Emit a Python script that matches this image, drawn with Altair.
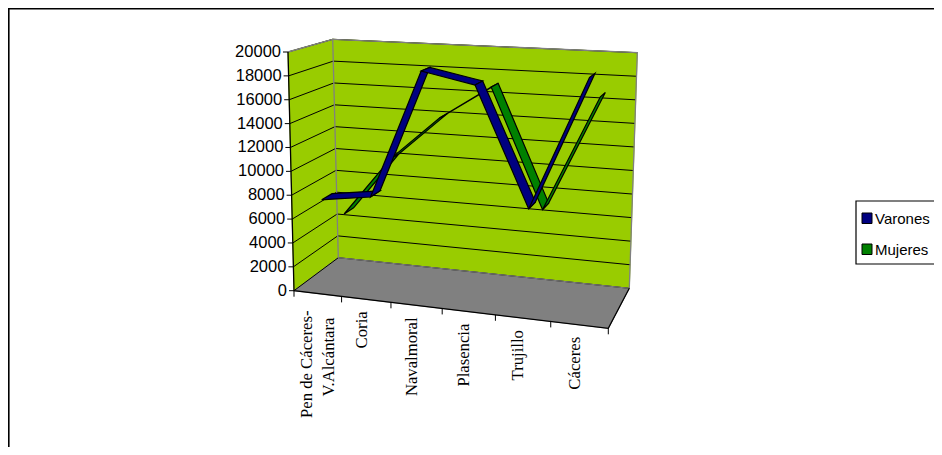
import altair as alt
import numpy as np
import pandas as pd

# ---- chart values ----
categories = ["Pen de Cáceres-\nV.Alcántara", "Coria", "Navalmoral", "Plasencia", "Trujillo", "Cáceres"]
varones = [7500, 8100, 18800, 17900, 8270, 19000]
mujeres = [5090, 10270, 14100, 17000, 7000, 16700]
y_ticks = list(range(0, 20001, 2000))
series_names = ["Varones", "Mujeres"]
series_colors = ["#000080", "#008000"]

# ---- the pseudo-3D box, as a perspective view (page pixels) ----
FLOOR = [(294, 290.7), (608.3, 328.3), (629.3, 288.3), (338.3, 257.7)]  # FL FR BR BL
UP_FL = (-6.0, -238.7)
UP_BL = (-5.6, -218.4)
UP_BR = (8.0, -235.6)
YMAX = 20000
W, H = 926, 439


def homography(q):
    src = [(0, 0), (1, 0), (1, 1), (0, 1)]
    A, b = [], []
    for (u, v), (x, y) in zip(src, q):
        A.append([u, v, 1, 0, 0, 0, -u * x, -v * x])
        A.append([0, 0, 0, u, v, 1, -u * y, -v * y])
        b += [x, y]
    return np.append(np.linalg.solve(np.array(A, float), np.array(b, float)), 1).reshape(3, 3)


HF = homography(FLOOR)


def weight(c, d):
    return float(HF[2] @ np.array([c, d, 1.0]))


QFL = np.array(UP_FL) * weight(0, 0)
QBL = np.array(UP_BL) * weight(0, 1)
QBR = np.array(UP_BR) * weight(1, 1)


def pos(c, d, v):
    w = weight(c, d)
    f = (HF @ np.array([c, d, 1.0]))[:2] / w
    q = QFL + c * (QBR - QBL) + d * (QBL - QFL)
    p = f + (v / YMAX) * q / w
    return float(p[0]), float(p[1])


def poly_rows(pid, pts, fill, stroke, sw=1.0):
    xs = sorted({p[0] for p in pts})
    out = []
    for x in xs:
        ys = []
        for (x0, y0), (x1, y1) in zip(pts, pts[1:] + pts[:1]):
            if min(x0, x1) <= x <= max(x0, x1):
                if x0 == x1:
                    ys += [y0, y1]
                else:
                    ys.append(y0 + (y1 - y0) * (x - x0) / (x1 - x0))
        out.append(dict(pid=pid, x=x, y=min(ys), y2=max(ys), fill=fill, stroke=stroke, sw=sw))
    return out


def line_rows(pid, pts, stroke, sw=1.0):
    return [dict(pid=pid, n=i, x=p[0], y=p[1], stroke=stroke, sw=sw) for i, p in enumerate(pts)]


xs = alt.Scale(domain=[8, 8 + W], nice=False, zero=False)
ys = alt.Scale(domain=[8 + H, 8], nice=False, zero=False)
X = alt.X("x:Q", scale=xs, axis=None)
Y = alt.Y("y:Q", scale=ys, axis=None)


def areas(rows):
    return alt.Chart(pd.DataFrame(rows)).mark_area().encode(
        x=X, y=Y, y2="y2:Q", detail="pid:N",
        fill=alt.Fill("fill:N", scale=None),
        stroke=alt.Stroke("stroke:N", scale=None),
        strokeWidth=alt.StrokeWidth("sw:Q", scale=None),
    )


def lines(rows):
    return alt.Chart(pd.DataFrame(rows)).mark_line(strokeCap="butt").encode(
        x=X, y=Y, detail="pid:N", order="n:Q",
        stroke=alt.Stroke("stroke:N", scale=None),
        strokeWidth=alt.StrokeWidth("sw:Q", scale=None),
    )


# walls and floor
pane = []
pane += poly_rows("left", [pos(0, 0, 0), pos(0, 1, 0), pos(0, 1, YMAX), pos(0, 0, YMAX)], "#99CC00", "#99CC00")
pane += poly_rows("back", [pos(0, 1, 0), pos(1, 1, 0), pos(1, 1, YMAX), pos(0, 1, YMAX)], "#99CC00", "#99CC00")
pane += poly_rows("floor", [pos(0, 0, 0), pos(1, 0, 0), pos(1, 1, 0), pos(0, 1, 0)], "#808080", "#808080")

# edges, grid, ticks
grid = []
for v in y_ticks:
    grid += line_rows(f"g{v}", [pos(0, 0, v), pos(0, 1, v), pos(1, 1, v)], "#000000", 1.0)
edges = []
edges += line_rows("e1", [pos(0, 1, YMAX), pos(1, 1, YMAX), pos(1, 1, 0)], "#808080", 1.3)
edges += line_rows("e2", [pos(0, 0, YMAX), pos(0, 1, YMAX), pos(0, 1, 0)], "#808080", 1.3)
edges += line_rows("e3", [pos(0, 1, 0), pos(1, 1, 0)], "#808080", 1.0)
axes = []
axes += line_rows("a1", [pos(0, 0, YMAX), pos(0, 0, 0), pos(1, 0, 0), pos(1, 1, 0)], "#000000", 1.3)
for v in y_ticks:
    p = pos(0, 0, v)
    axes += line_rows(f"ty{v}", [p, (p[0] - 5, p[1])], "#000000", 1.0)
for i in range(len(categories) + 1):
    p = pos(i / len(categories), 0, 0)
    axes += line_rows(f"tx{i}", [p, (p[0], p[1] + 6)], "#000000", 1.0)

# ribbons (back series first, so the front one covers it)
n = len(categories)
ribbon = []
for k, (vals, color, (d0, d1)) in reversed(list(enumerate(
        [(varones, series_colors[0], (0.13, 0.36)), (mujeres, series_colors[1], (0.63, 0.86))]))):
    for i in range(n - 1):
        c0, c1 = (i + 0.5) / n, (i + 1.5) / n
        quad = [pos(c0, d0, vals[i]), pos(c1, d0, vals[i + 1]), pos(c1, d1, vals[i + 1]), pos(c0, d1, vals[i])]
        ribbon += poly_rows(f"r{k}-{i}", quad, color, "#000000", 1.2)

# page frame
frame = line_rows("f", [(8.7, 8 + H), (8.7, 8.7), (8 + W, 8.7)], "#000000", 1.8)

# value labels
ylab = pd.DataFrame([dict(x=pos(0, 0, v)[0] - 7, y=pos(0, 0, v)[1], t=str(v)) for v in y_ticks])
ytext = alt.Chart(ylab).mark_text(align="right", baseline="middle", font="Liberation Sans", fontSize=16.5).encode(
    x=X, y=Y, text="t:N")

# category labels
clab = []
for i, name in enumerate(categories):
    parts = name.split("\n")
    p = pos((i + 0.5) / n, 0, 0)
    if len(parts) == 1:
        clab.append(dict(x=p[0] - 4.5, y=p[1] + 12, t=parts[0]))
    else:
        clab.append(dict(x=p[0] - 11, y=p[1] + 17, t=parts[0]))
        clab.append(dict(x=p[0] + 11, y=p[1] + 24, t=parts[1]))
ctext = alt.Chart(pd.DataFrame(clab)).mark_text(
    align="right", baseline="middle", angle=270, font="Liberation Serif", fontSize=16.7
).encode(x=X, y=Y, text="t:N")

# legend
box = alt.Chart(pd.DataFrame([dict(x=856, x2=8 + W + 20, y=201, y2=264)])).mark_rect(
    fill="#ffffff", stroke="#000000", strokeWidth=1.2
).encode(x=X, x2="x2:Q", y=Y, y2="y2:Q")
leg_rows = pd.DataFrame([
    dict(x=862, x2=872, y=213, y2=223.5, tx=875, ty=218.5, name=series_names[0], col=series_colors[0]),
    dict(x=862, x2=872, y=244, y2=254.5, tx=875, ty=249.5, name=series_names[1], col=series_colors[1]),
])
swatch = alt.Chart(leg_rows).mark_rect(stroke="#000000", strokeWidth=1).encode(
    x=X, x2="x2:Q", y=Y, y2="y2:Q", fill=alt.Fill("col:N", scale=None))
legtxt = alt.Chart(leg_rows).mark_text(align="left", baseline="middle", font="Liberation Sans", fontSize=15).encode(
    x=alt.X("tx:Q", scale=xs, axis=None), y=alt.Y("ty:Q", scale=ys, axis=None), text="name:N")

chart = alt.layer(
    areas(pane), lines(grid), lines(edges), lines(axes), areas(ribbon), lines(frame),
    ytext, ctext, box, swatch, legtxt,
).properties(width=W, height=H, padding=0, autosize="none", background="#ffffff").configure_view(stroke=None)

chart.save("out.html", embed_options={"renderer": "svg", "actions": False})
